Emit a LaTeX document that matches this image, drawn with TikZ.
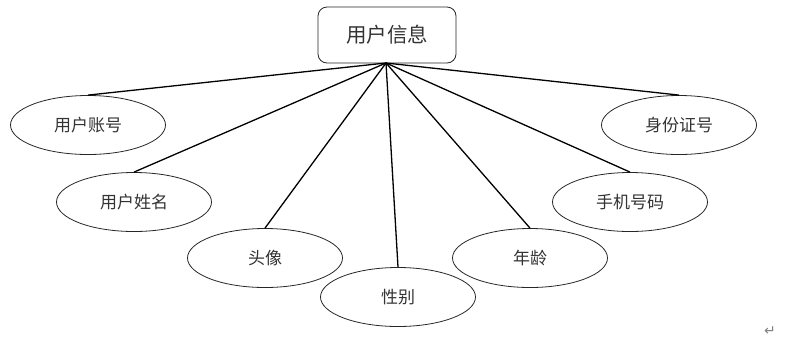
\documentclass[tikz,border=0pt]{standalone}
\usepackage{fontspec}
\setmainfont{Noto Sans CJK SC}
\newfontfamily\symfont{DejaVu Sans}
\usetikzlibrary{shapes.geometric}
\tikzset{
  attr/.style={draw=black!85, line width=0.8pt, ellipse, minimum width=155pt, minimum height=59pt, inner sep=0pt, font=\fontsize{17pt}{19pt}\selectfont, text=black!80},
  entity/.style={draw=black!85, line width=0.8pt, rounded corners=9pt, minimum width=138pt, minimum height=56pt, inner sep=0pt, font=\fontsize{20.5pt}{22pt}\selectfont, text=black!80},
  link/.style={line width=1.3pt, black}
}
\begin{document}
\begin{tikzpicture}[x=1pt,y=-1pt]
\useasboundingbox (0,0) rectangle (810,341);
\node[entity] (main) at (387,35) {用户信息};
\coordinate (hub) at (386,63);
\node[attr] (a1) at (88,125) {用户账号};
\node[attr] (a2) at (134,202) {用户姓名};
\node[attr] (a3) at (265,258) {头像};
\node[attr] (a4) at (398,297) {性别};
\node[attr] (a5) at (530,258) {年龄};
\node[attr] (a6) at (630,202) {手机号码};
\node[attr] (a7) at (679,125) {身份证号};
\foreach \n in {a1,a2,a3,a4,a5,a6,a7} \draw[link] (hub) -- (\n.north);
\node[text=black!50, font=\symfont\fontsize{14pt}{15pt}\selectfont] (ret) at (770,331) {↵};
\end{tikzpicture}
\end{document}
